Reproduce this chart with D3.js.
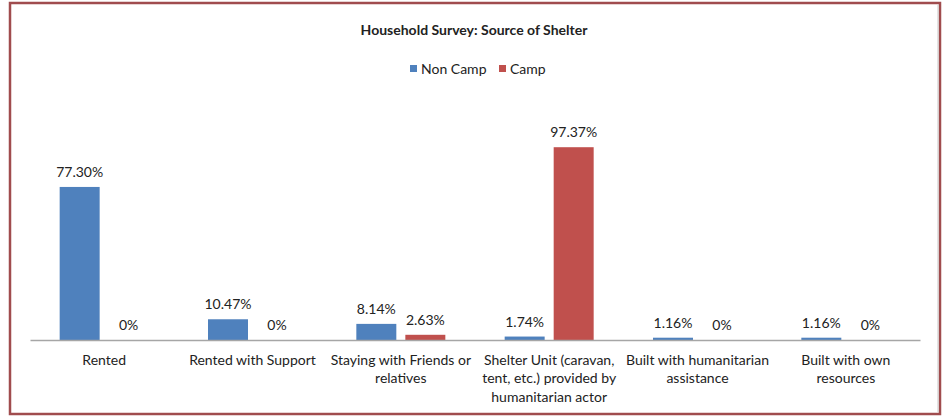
<!DOCTYPE html>
<html>
<head>
<meta charset="utf-8">
<script src="https://cdn.jsdelivr.net/npm/d3@7"></script>
<style>
  body { margin: 0; background: #fff; }
  svg text { font-family: Lato, "Open Sans", sans-serif; fill: #222; }
</style>
</head>
<body>
<div id="chart"></div>
<script>
// data
var categories = ["Rented", "Rented with Support", "Staying with Friends or relatives",
  "Shelter Unit (caravan, tent, etc.) provided by humanitarian actor",
  "Built with humanitarian assistance", "Built with own resources"];
var seriesNames = ["Non Camp", "Camp"];
var nonCamp = [77.30, 10.47, 8.14, 1.74, 1.16, 1.16];
var camp = [0, 0, 2.63, 97.37, 0, 0];
var nonCampLabels = ["77.30%", "10.47%", "8.14%", "1.74%", "1.16%", "1.16%"];
var campLabels = ["0%", "0%", "2.63%", "97.37%", "0%", "0%"];
var colors = ["#4f81bd", "#c0504d"];

var width = 942, height = 417;
var svg = d3.select("#chart").append("svg")
    .attr("width", width)
    .attr("height", height);

// outer frame
svg.append("rect")
    .attr("x", 10).attr("y", 3)
    .attr("width", 930).attr("height", 411)
    .style("fill", "#fff")
    .style("stroke", "#a04c4e")
    .style("stroke-width", 2.5);
svg.append("line")
    .attr("x1", 938).attr("x2", 938).attr("y1", 5).attr("y2", 412)
    .style("stroke", "#c8c8c8").style("stroke-width", 1);

var data = categories.map(function(c, i) {
  return {cat: c, values: [
    {s: seriesNames[0], v: nonCamp[i], label: nonCampLabels[i]},
    {s: seriesNames[1], v: camp[i], label: campLabels[i]}
  ]};
});

var x0 = d3.scaleBand().domain(categories).range([30, 920]).padding(0);
var x1 = d3.scaleBand().domain(seriesNames).paddingInner(0.184).paddingOuter(0);
var groupW = 89;
x1.range([(x0.bandwidth() - groupW) / 2, (x0.bandwidth() + groupW) / 2]);
var y = d3.scaleLinear().domain([0, 100]).range([340, 142]);
var color = d3.scaleOrdinal().domain(seriesNames).range(colors);

// title
svg.append("text")
    .attr("x", 474).attr("y", 35)
    .attr("text-anchor", "middle")
    .style("font-weight", "bold")
    .style("font-size", "14px")
    .text("Household Survey: Source of Shelter");

// legend
var legend = svg.append("g").attr("transform", "translate(410, 69)");
var lx = [0, 89];
seriesNames.forEach(function(s, i) {
  var g = legend.append("g").attr("transform", "translate(" + lx[i] + ",0)");
  g.append("rect").attr("x", 0).attr("y", -4).attr("width", 7).attr("height", 7)
      .style("fill", color(s));
  g.append("text").attr("x", 11).attr("y", 0).attr("dy", "0.35em")
      .style("font-size", "14px").text(s);
});

var groups = svg.selectAll(".grp")
    .data(data)
    .enter().append("g")
    .attr("class", "grp")
    .attr("transform", function(d) { return "translate(" + x0(d.cat) + ",0)"; });

groups.selectAll("rect")
    .data(function(d) { return d.values; })
    .enter().append("rect")
    .attr("x", function(d) { return x1(d.s); })
    .attr("width", x1.bandwidth())
    .attr("y", function(d) { return y(d.v); })
    .attr("height", function(d) { return y(0) - y(d.v); })
    .style("fill", function(d) { return color(d.s); });

groups.selectAll(".lbl")
    .data(function(d) { return d.values; })
    .enter().append("text")
    .attr("class", "lbl")
    .attr("x", function(d) { return x1(d.s) + x1.bandwidth() / 2; })
    .attr("y", function(d) { return y(d.v) - 10; })
    .attr("text-anchor", "middle")
    .style("font-size", "14px")
    .text(function(d) { return d.label; });

// x axis
var xAxis = svg.append("g")
    .attr("transform", "translate(0,340)")
    .call(d3.axisBottom(x0).tickSize(0).tickPadding(15));
xAxis.select(".domain").style("stroke", "#a6a6a6").style("stroke-width", 1.5);
xAxis.selectAll(".tick text")
    .style("font-size", "14px")
    .style("font-family", "Lato, 'Open Sans', sans-serif")
    .style("fill", "#222")
    .call(wrap, 147);

function wrap(texts, w) {
  texts.each(function() {
    var text = d3.select(this),
        words = text.text().split(/\s+/).reverse(),
        word, line = [], lineNo = 0,
        yy = text.attr("y"), dy = parseFloat(text.attr("dy")),
        tspan = text.text(null).append("tspan").attr("x", 0).attr("y", yy).attr("dy", dy + "em");
    while ((word = words.pop())) {
      line.push(word);
      tspan.text(line.join(" "));
      if (tspan.node().getComputedTextLength() > w && line.length > 1) {
        line.pop();
        tspan.text(line.join(" "));
        line = [word];
        tspan = text.append("tspan").attr("x", 0).attr("y", yy)
            .attr("dy", (++lineNo * 1.32 + dy) + "em").text(word);
      }
    }
  });
}
</script>
</body>
</html>
